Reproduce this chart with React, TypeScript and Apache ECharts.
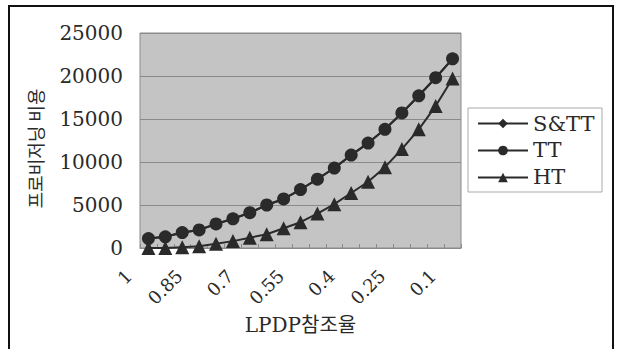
import React, { useEffect, useRef } from "react";
import * as echarts from "echarts";

const categories = ["1", "0.95", "0.9", "0.85", "0.8", "0.75", "0.7", "0.65", "0.6", "0.55", "0.5", "0.45", "0.4", "0.35", "0.3", "0.25", "0.2", "0.15", "0.1"];
const sttValues = [1100, 1300, 1800, 2100, 2800, 3400, 4100, 5000, 5700, 6800, 8000, 9300, 10800, 12200, 13800, 15700, 17700, 19800, 22000];
const ttValues = [1100, 1300, 1800, 2100, 2800, 3400, 4100, 5000, 5700, 6800, 8000, 9300, 10800, 12200, 13800, 15700, 17700, 19800, 22000];
const htValues = [0, 0, 100, 200, 500, 800, 1200, 1600, 2300, 3000, 4000, 5100, 6400, 7700, 9400, 11500, 13800, 16500, 19700];
const seriesNames = ["S&TT", "TT", "HT"];

const serif = "'DejaVu Serif', 'Liberation Serif', 'Noto Sans CJK KR', serif";
const ink = "#2a2a2a";

export default function App() {
  const ref = useRef<HTMLDivElement>(null);
  useEffect(() => {
    if (!ref.current) return;
    const chart = echarts.init(ref.current, null, { renderer: "svg" });
    const mk = (name: string, data: number[], symbol: string, size: number) => ({
      name,
      type: "line",
      data,
      symbol,
      symbolSize: size,
      showAllSymbol: true,
      lineStyle: { color: ink, width: 2 },
      itemStyle: { color: ink },
    });
    chart.setOption({
      animation: false,
      backgroundColor: "#ffffff",
      grid: {
        left: 140,
        right: 159,
        top: 33,
        bottom: 101,
        show: true,
        backgroundColor: "#c4c4c4",
        borderColor: "#8a8a8a",
        borderWidth: 1,
      },
      xAxis: {
        type: "category",
        data: categories,
        boundaryGap: true,
        axisLine: { show: true, lineStyle: { color: "#8a8a8a" } },
        axisTick: { show: true, inside: true, length: 4, interval: 0, lineStyle: { color: "#8a8a8a" } },
        axisLabel: {
          interval: 2,
          rotate: 45,
          fontFamily: serif,
          fontSize: 18,
          color: ink,
          margin: 5,
          padding: [0, 28, 0, 0],
        },
        name: "LPDP참조율",
        nameLocation: "middle",
        nameGap: 64,
        nameTextStyle: { fontFamily: serif, fontSize: 20, color: ink },
      },
      yAxis: {
        type: "value",
        min: 0,
        max: 25000,
        interval: 5000,
        axisLine: { show: false },
        axisTick: { show: false },
        splitLine: { show: true, lineStyle: { color: "#8a8a8a", width: 1 } },
        axisLabel: {
          fontFamily: serif,
          fontSize: 20,
          color: ink,
          margin: 17,
          formatter: (v: number) => String(v),
        },
        name: "프로비저닝 비용",
        nameLocation: "middle",
        nameGap: 96,
        nameTextStyle: {
          fontFamily: "'Noto Sans CJK KR', sans-serif",
          fontSize: 18,
          color: ink,
          padding: [0, 16, 0, 0],
        },
      },
      legend: {
        orient: "vertical",
        left: 472,
        top: 108,
        itemGap: 6,
        itemWidth: 50,
        itemHeight: 12,
        data: seriesNames,
        textStyle: { fontFamily: serif, fontSize: 21, color: ink },
      },
      graphic: [
        {
          type: "rect",
          shape: { x: 468, y: 108, width: 134, height: 84 },
          style: { fill: "none", stroke: "#aaaaaa", lineWidth: 1 },
          silent: true,
        },
        {
          type: "rect",
          shape: { x: 9, y: 6, width: 604, height: 360 },
          style: { fill: "none", stroke: "#111111", lineWidth: 2 },
          silent: true,
        },
      ],
      series: [
        mk(seriesNames[0], sttValues, "diamond", 12),
        mk(seriesNames[1], ttValues, "circle", 13),
        mk(seriesNames[2], htValues, "triangle", 14),
      ],
    });
    return () => chart.dispose();
  }, []);
  return <div ref={ref} style={{ position: "fixed", left: 0, top: 0, width: 620, height: 349 }} />;
}
